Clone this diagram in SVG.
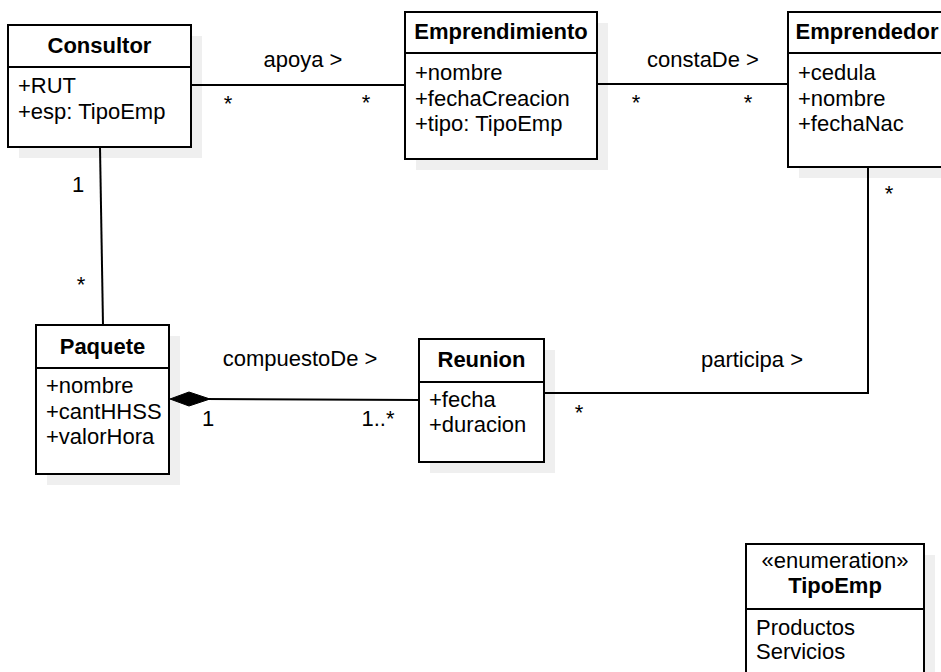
<svg xmlns="http://www.w3.org/2000/svg" width="941" height="672" viewBox="0 0 941 672">
<style>
text { font-family: "Liberation Sans", Arial, sans-serif; font-size: 22px; fill: #000; }
.t { font-weight: bold; text-anchor: middle; }
.m { text-anchor: middle; }
.box { fill: #fff; stroke: #000; stroke-width: 2; }
.sh { fill: #efefef; }
.div { stroke: #000; stroke-width: 2; }
.ln { fill: none; stroke: #000; stroke-width: 2; }
</style>
<rect width="941" height="672" fill="#fff"/>

<g id="shadows">
  <rect class="sh" x="19" y="36" width="183" height="122"/>
  <rect class="sh" x="416" y="23" width="192" height="147"/>
  <rect class="sh" x="799" y="23" width="160" height="155"/>
  <rect class="sh" x="47" y="336" width="133" height="149"/>
  <rect class="sh" x="430" y="350" width="125" height="123"/>
  <rect class="sh" x="757" y="555" width="178" height="140"/>
</g>

<g id="connectors">
  <line class="ln" x1="191" y1="85" x2="405" y2="85"/>
  <line class="ln" x1="597" y1="84" x2="788" y2="84"/>
  <line class="ln" x1="100" y1="147" x2="103" y2="325"/>
  <line class="ln" x1="205" y1="399" x2="419" y2="400"/>
  <polygon points="170,399 189,392 210,399 189,406" fill="#000" stroke="#000" stroke-width="1"/>
  <polyline class="ln" points="544,393 868,393 868,167"/>
  <text class="m" x="303" y="67">apoya &gt;</text>
  <text class="m" x="228" y="111">*</text>
  <text class="m" x="366" y="110">*</text>
  <text class="m" x="703" y="67">constaDe &gt;</text>
  <text class="m" x="636" y="110">*</text>
  <text class="m" x="748" y="110">*</text>
  <text class="m" x="78" y="192">1</text>
  <text class="m" x="81" y="292">*</text>
  <text class="m" x="300" y="366">compuestoDe &gt;</text>
  <text class="m" x="208" y="426">1</text>
  <text class="m" x="378" y="426">1..*</text>
  <text class="m" x="752" y="367">participa &gt;</text>
  <text class="m" x="579" y="420">*</text>
  <text class="m" x="889" y="201">*</text>
</g>

<g id="Consultor">
  <rect class="box" x="8" y="25" width="183" height="122"/>
  <line class="div" x1="8" y1="67" x2="191" y2="67"/>
  <text class="t" x="99.5" y="53">Consultor</text>
  <text x="18" y="93">+RUT</text>
  <text x="18" y="119">+esp: TipoEmp</text>
</g>

<g id="Emprendimiento">
  <rect class="box" x="405" y="12" width="192" height="147"/>
  <line class="div" x1="405" y1="53" x2="597" y2="53"/>
  <text class="t" x="501" y="39">Emprendimiento</text>
  <text x="415" y="80">+nombre</text>
  <text x="415" y="106">+fechaCreacion</text>
  <text x="415" y="131">+tipo: TipoEmp</text>
</g>

<g id="Emprendedor">
  <rect class="box" x="788" y="12" width="160" height="155"/>
  <line class="div" x1="788" y1="53" x2="948" y2="53"/>
  <text class="t" x="867" y="39">Emprendedor</text>
  <text x="798" y="80">+cedula</text>
  <text x="798" y="106">+nombre</text>
  <text x="798" y="131">+fechaNac</text>
</g>

<g id="Paquete">
  <rect class="box" x="36" y="325" width="133" height="149"/>
  <line class="div" x1="36" y1="368" x2="169" y2="368"/>
  <text class="t" x="102.5" y="354">Paquete</text>
  <text x="46" y="393">+nombre</text>
  <text x="46" y="419">+cantHHSS</text>
  <text x="46" y="444">+valorHora</text>
</g>

<g id="Reunion">
  <rect class="box" x="419" y="339" width="125" height="123"/>
  <line class="div" x1="419" y1="382" x2="544" y2="382"/>
  <text class="t" x="481.5" y="367">Reunion</text>
  <text x="429" y="407">+fecha</text>
  <text x="429" y="432">+duracion</text>
</g>

<g id="TipoEmp">
  <rect class="box" x="746" y="544" width="178" height="140"/>
  <line class="div" x1="746" y1="609" x2="924" y2="609"/>
  <text class="m" x="835" y="568">«enumeration»</text>
  <text class="t" x="835" y="593">TipoEmp</text>
  <text x="756" y="635">Productos</text>
  <text x="756" y="659">Servicios</text>
</g>
</svg>
